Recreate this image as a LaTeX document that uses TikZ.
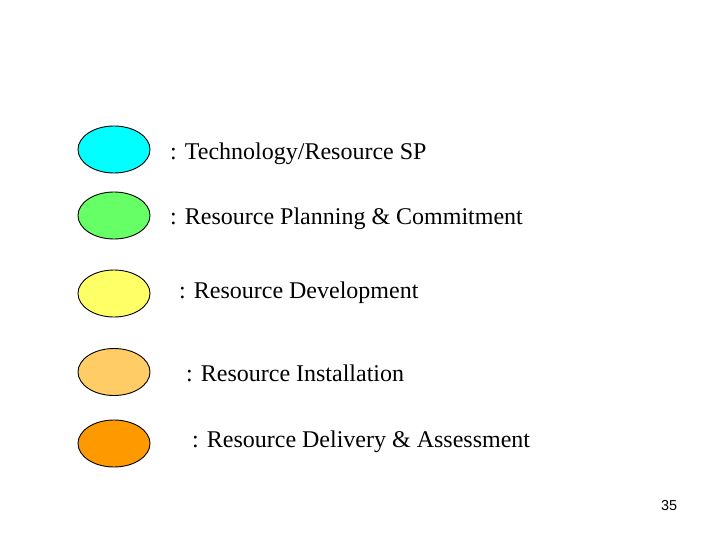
\documentclass[tikz,border=0pt]{standalone}
\usepackage{fontspec}
\setmainfont{Liberation Serif}
\newfontfamily\numfont{Liberation Sans}
\definecolor{cyanfill}{HTML}{00FFFF}
\definecolor{greenfill}{HTML}{66FF66}
\definecolor{yellowfill}{HTML}{FFFF66}
\definecolor{lorangefill}{HTML}{FFCC66}
\definecolor{orangefill}{HTML}{FF9900}
\begin{document}
\begin{tikzpicture}[x=1pt,y=-1pt,
  blob/.style={draw=black,line width=0.9pt},
  legendtext/.style={anchor=base west,inner sep=0pt,font=\fontsize{24}{28}\selectfont}]
\useasboundingbox (0,0) rectangle (720,540);
\fill[blob,fill=cyanfill] (114,149.5) ellipse [x radius=36,y radius=23.5];
\fill[blob,fill=greenfill] (114,215.5) ellipse [x radius=36,y radius=23.5];
\fill[blob,fill=yellowfill] (114,293.5) ellipse [x radius=36,y radius=23.5];
\fill[blob,fill=lorangefill] (114,372) ellipse [x radius=36,y radius=23.5];
\fill[blob,fill=orangefill] (114,443.5) ellipse [x radius=36,y radius=23.5];
\node[legendtext] (t1) at (170,160) {: Technology/Resource SP};
\node[legendtext] (t2) at (170,225) {: Resource Planning \& Commitment};
\node[legendtext] (t3) at (179,298) {: Resource Development};
\node[legendtext] (t4) at (186,381) {: Resource Installation};
\node[legendtext] (t5) at (192,447) {: Resource Delivery \& Assessment};
\node[anchor=base west,inner sep=0pt,font=\numfont\fontsize{14.4}{16}\selectfont] (pg) at (661,510) {35};
\end{tikzpicture}
\end{document}
